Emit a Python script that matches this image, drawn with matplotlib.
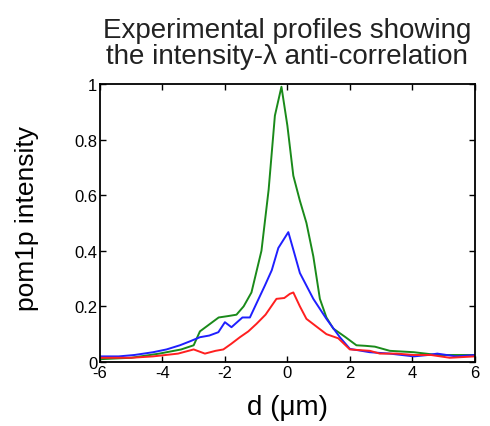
import matplotlib
matplotlib.use("Agg")
import matplotlib.pyplot as plt

# profiles: d in um, intensity normalised
green_d = [-6.0, -5.0, -4.1, -3.4, -3.0, -2.8, -2.5, -2.2, -1.9, -1.63, -1.4, -1.15,
           -0.83, -0.6, -0.4, -0.19, 0.0, 0.19, 0.4, 0.61, 0.83, 1.04, 1.25, 1.47,
           1.85, 2.21, 2.5, 2.8, 3.28, 4.05, 4.8, 5.4, 6.0]
green_v = [0.01, 0.015, 0.03, 0.045, 0.06, 0.11, 0.135, 0.16, 0.165, 0.17, 0.2, 0.25,
           0.40, 0.62, 0.886, 0.99, 0.85, 0.67, 0.58, 0.50, 0.38, 0.227, 0.16, 0.12,
           0.09, 0.06, 0.058, 0.055, 0.04, 0.035, 0.025, 0.025, 0.025]

blue_d = [-6.0, -5.4, -4.9, -4.3, -3.87, -3.44, -3.1, -2.8, -2.5, -2.21, -2.0, -1.79,
          -1.44, -1.2, -0.95, -0.72, -0.5, -0.29, 0.03, 0.2, 0.4, 0.83, 1.25, 1.68,
          2.0, 2.64, 3.28, 4.05, 4.5, 4.8, 5.4, 6.0]
blue_v = [0.02, 0.02, 0.025, 0.035, 0.045, 0.06, 0.075, 0.089, 0.095, 0.107, 0.143, 0.125,
          0.16, 0.16, 0.22, 0.275, 0.33, 0.41, 0.467, 0.40, 0.32, 0.227, 0.155, 0.089,
          0.047, 0.035, 0.03, 0.02, 0.025, 0.03, 0.02, 0.025]

red_d = [-6.0, -5.0, -4.3, -3.5, -3.0, -2.64, -2.3, -2.05, -1.8, -1.52, -1.25, -0.99,
         -0.7, -0.35, -0.1, 0.08, 0.19, 0.4, 0.61, 0.9, 1.25, 1.63, 2.0, 2.64,
         2.96, 3.5, 4.05, 4.6, 5.2, 6.0]
red_v = [0.015, 0.015, 0.02, 0.03, 0.045, 0.03, 0.04, 0.045, 0.065, 0.089, 0.11, 0.137,
         0.17, 0.227, 0.23, 0.245, 0.25, 0.2, 0.155, 0.13, 0.10, 0.085, 0.045, 0.04,
         0.03, 0.03, 0.025, 0.025, 0.015, 0.02]

x_ticks = [-6, -4, -2, 0, 2, 4, 6]
y_ticks = [0, 0.2, 0.4, 0.6, 0.8, 1]
y_labels = ["0", "0.2", "0.4", "0.6", "0.8", "1"]

plt.rcParams["font.family"] = ["Liberation Sans", "DejaVu Sans"]

fig = plt.figure(figsize=(4.9, 4.27), dpi=100)
ax = fig.add_axes([0.204, 0.150, 0.765, 0.651])

ax.plot(green_d, green_v, color="#1a8a1a", lw=1.4)
ax.plot(blue_d, blue_v, color="#1f1fff", lw=1.4)
ax.plot(red_d, red_v, color="#ff1f1f", lw=1.4)

ax.set_xlim(-6, 6)
ax.set_ylim(0, 1)
ax.set_xticks(x_ticks)
ax.set_xticklabels([str(t) for t in x_ticks])
ax.set_yticks(y_ticks)
ax.set_yticklabels(y_labels)
ax.tick_params(direction="in", top=True, right=True, length=4, width=1,
               labelsize=12, pad=2)
for s in ax.spines.values():
    s.set_linewidth(1.3)

ax.set_xlabel("d (\u03bcm)", fontsize=20, labelpad=10)
ax.set_ylabel("pom1p intensity", fontsize=19)
ax.yaxis.set_label_coords(-0.163, 0.52)
ax.set_title("Experimental profiles showing\nthe intensity-\u03bb anti-correlation",
             fontsize=20, linespacing=1.02, pad=15, color="#222222")

fig.savefig("out.png", dpi=100)
